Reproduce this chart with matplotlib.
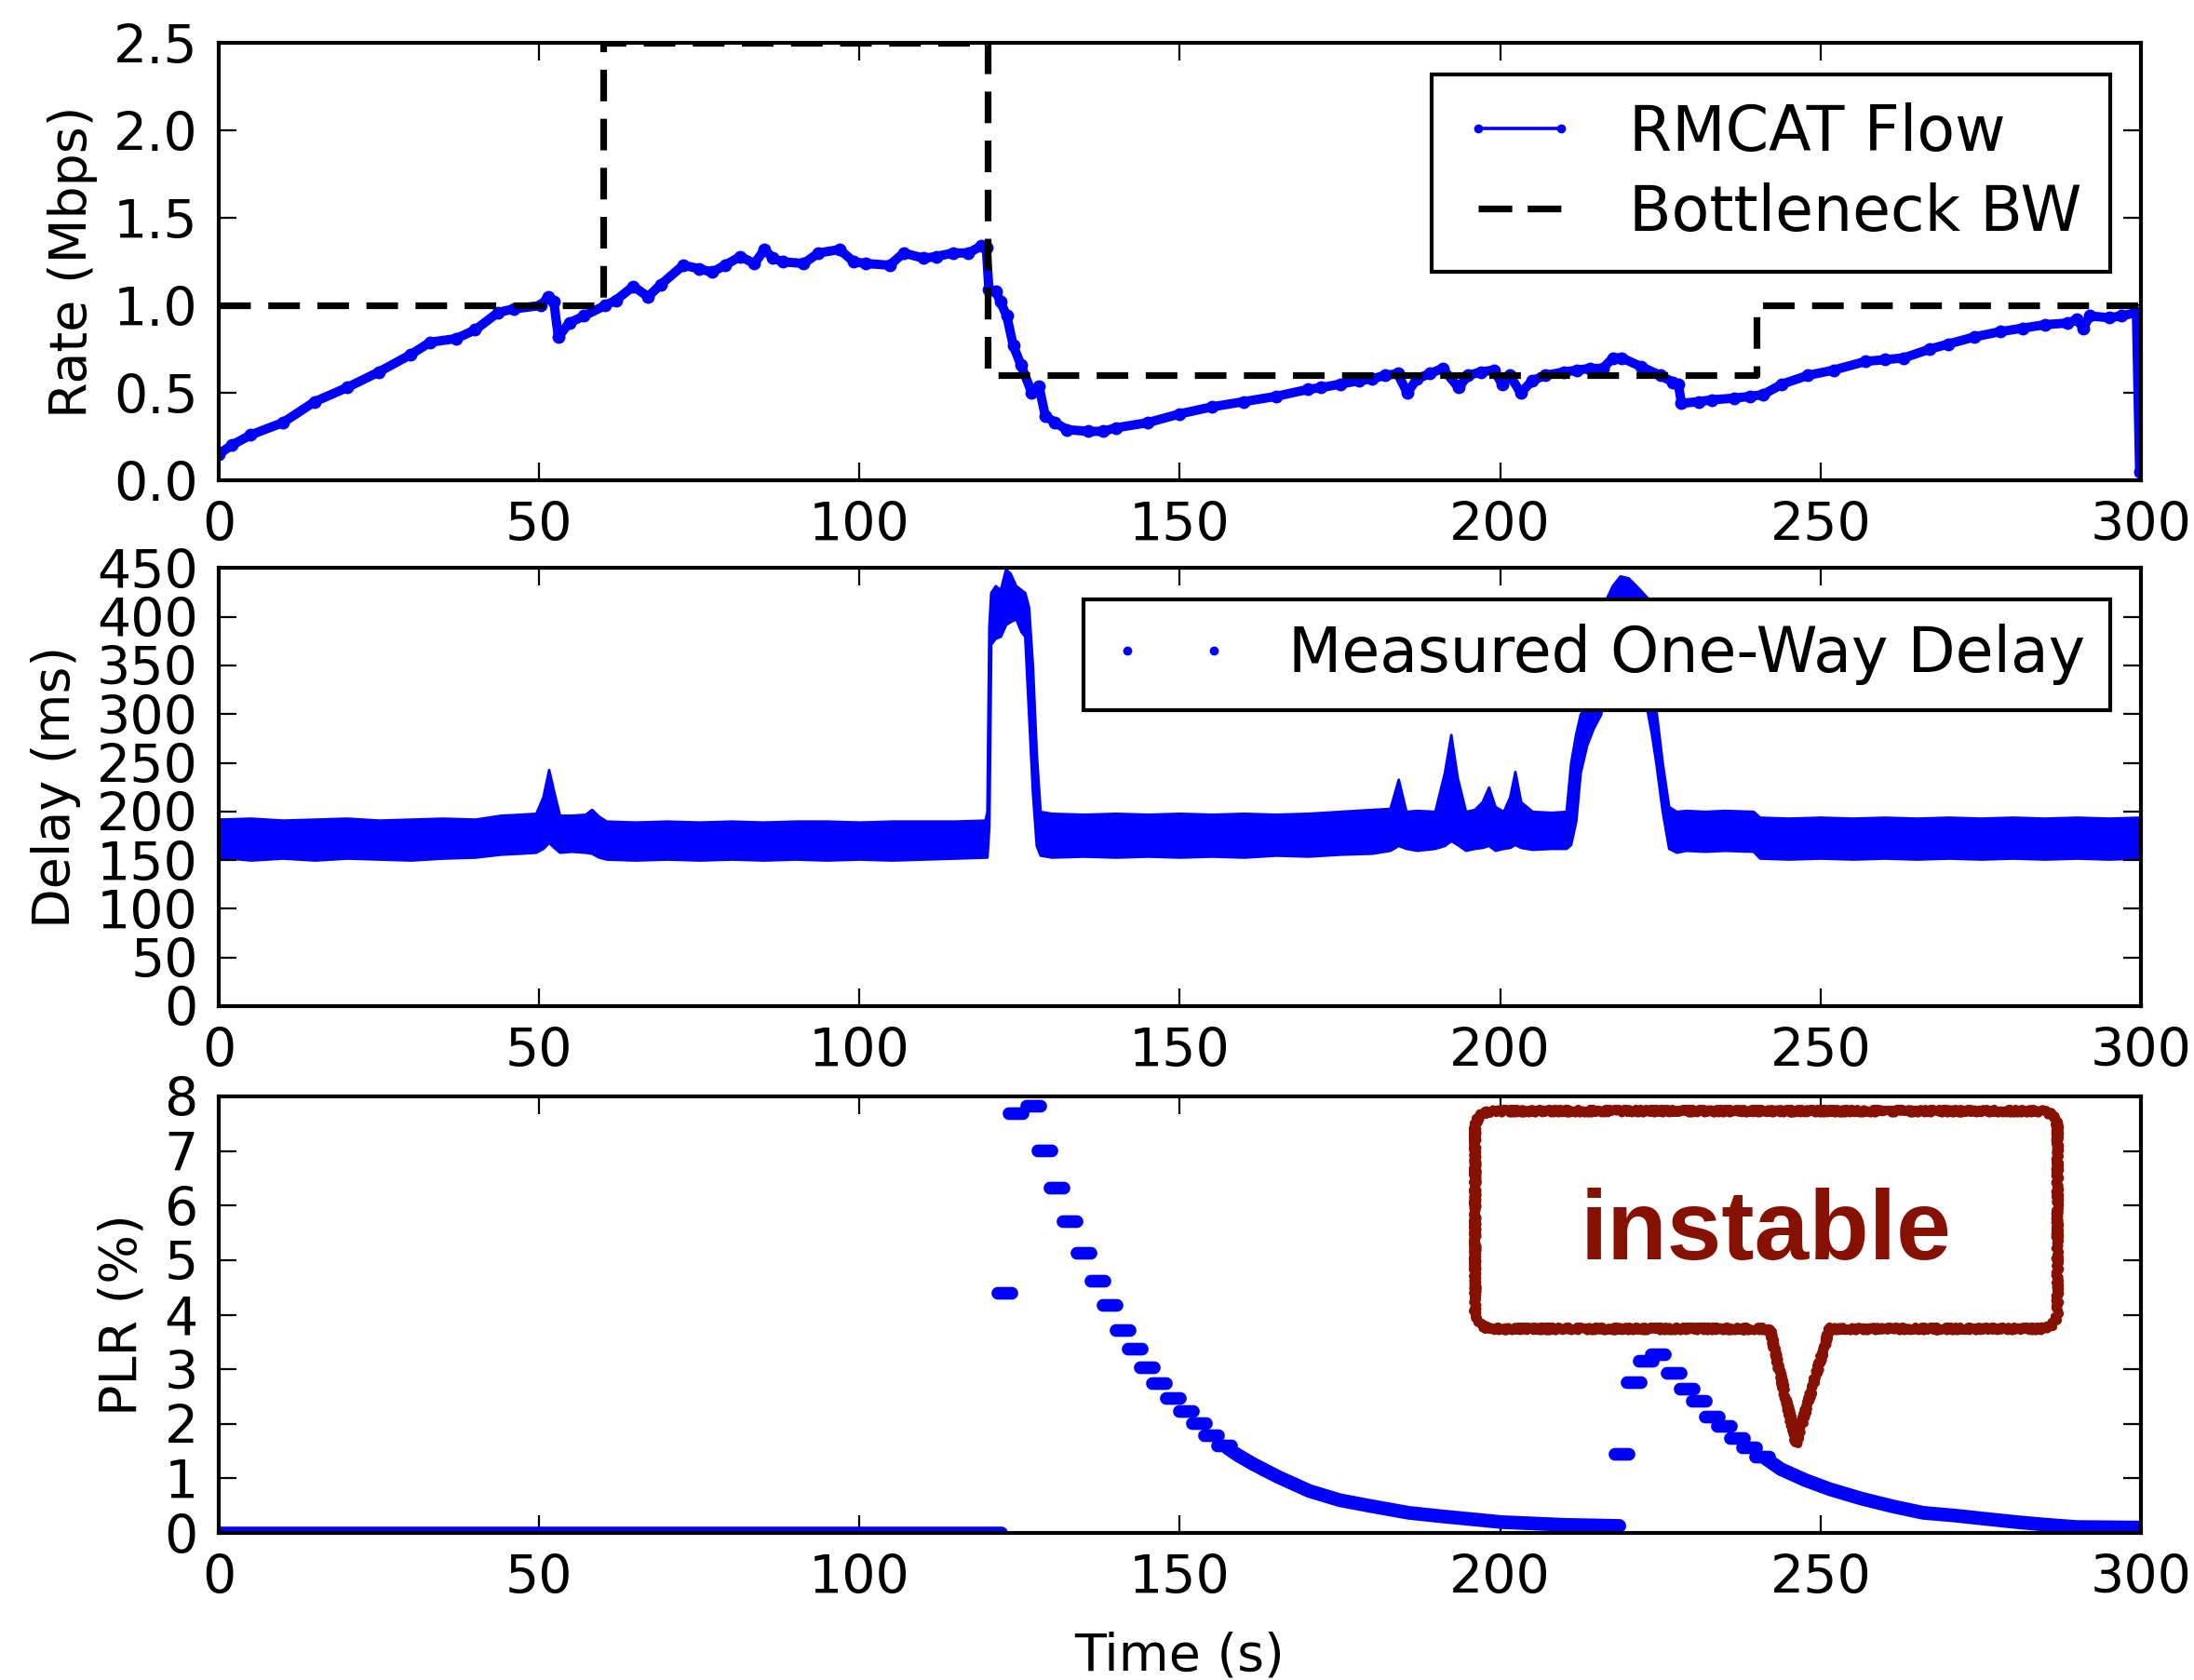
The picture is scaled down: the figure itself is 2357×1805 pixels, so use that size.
#!/usr/bin/env python3
"""RMCAT flow: rate, one-way delay and packet loss ratio over time."""

import numpy as np
import matplotlib
matplotlib.use("Agg")
import matplotlib.pyplot as plt
from matplotlib.lines import Line2D
from matplotlib.path import Path
from matplotlib.patches import PathPatch

# ---- rate panel -------------------------------------------------------
rate_t = [0, 2, 5, 10, 15, 20, 25, 30, 33, 37, 40, 43.6, 46, 50.3, 51.4, 52.3, 53, 54.7,
          57, 60.3, 62, 64.7, 67, 69, 72.5, 75, 77, 79, 81.4, 83.6, 85.2, 86.5, 88, 91.3,
          93.6, 96.9, 99.1, 101, 104.7, 106.9, 110, 112, 114.6, 117, 119, 119.8, 120.2,
          121.3, 122, 123, 124, 125.2, 126.9, 128, 129, 130.5, 132.4, 135.7, 138, 140, 145,
          150, 155, 160, 165, 170, 172, 175, 178, 180, 182, 184, 185.5, 187, 189, 191,
          193.5, 195, 197, 199, 200.3, 201.5, 203.2, 205, 207, 210, 212, 214, 216, 217.6,
          219, 222, 225, 227, 227.8, 228.3, 231, 233, 236.5, 239, 241, 244, 248, 252, 257,
          260, 263, 267, 270, 274, 278, 281.5, 285, 288.6, 290, 291, 292, 295, 297, 299.3,
          299.8]
rate_mbps = [0.15, 0.20, 0.26, 0.33, 0.45, 0.53, 0.62, 0.72, 0.79, 0.81, 0.86, 0.96, 0.98,
             1.00, 1.05, 1.02, 0.82, 0.90, 0.94, 1.00, 1.03, 1.11, 1.05, 1.12, 1.23, 1.21,
             1.19, 1.23, 1.28, 1.24, 1.32, 1.27, 1.25, 1.24, 1.30, 1.32, 1.25, 1.24, 1.23,
             1.30, 1.27, 1.28, 1.30, 1.30, 1.34, 1.33, 1.09, 1.08, 1.02, 0.94, 0.77, 0.66,
             0.50, 0.54, 0.37, 0.33, 0.29, 0.28, 0.28, 0.30, 0.33, 0.38, 0.42, 0.45, 0.48,
             0.52, 0.53, 0.55, 0.57, 0.58, 0.60, 0.61, 0.50, 0.58, 0.61, 0.64, 0.53, 0.60,
             0.62, 0.63, 0.55, 0.60, 0.50, 0.57, 0.60, 0.62, 0.63, 0.64, 0.64, 0.70, 0.70,
             0.65, 0.60, 0.56, 0.55, 0.44, 0.45, 0.46, 0.47, 0.48, 0.49, 0.55, 0.60, 0.63,
             0.68, 0.69, 0.70, 0.75, 0.78, 0.82, 0.85, 0.87, 0.89, 0.90, 0.92, 0.87, 0.94,
             0.93, 0.94, 0.96, 0.05]

bw_t = [0, 60, 60, 120, 120, 240, 240, 300]
bw_mbps = [1.0, 1.0, 2.5, 2.5, 0.6, 0.6, 1.0, 1.0]

# ---- delay panel (envelope of the measured samples) -------------------
delay_t = [0, 5, 10, 15, 20, 25, 30, 35, 40, 44, 47, 49.5, 50.6, 51.5, 52.3, 53.2, 55,
           57.2, 58.2, 59.3, 60.5, 65, 70, 75, 80, 85, 90, 95, 100, 105, 110, 115, 119.6,
           119.9, 120.2, 120.5, 121.2, 122, 122.8, 123.5, 124.4, 125.2, 125.8, 126.4, 127,
           127.6, 128.2, 130, 135, 140, 145, 150, 155, 160, 165, 170, 175, 180, 182.8,
           184.1, 185.3, 187, 189.8, 191.3, 192.3, 193.3, 194.6, 196, 197.2, 198.2, 199.2,
           200.5, 201.5, 202.3, 203.2, 205, 208, 210.3, 211, 211.8, 212.5, 213.5, 214.5,
           215.7, 216.5, 217.5, 218.7, 220, 221.5, 222.9, 223.6, 224.3, 225.3, 226.3,
           227.5, 229, 232, 235, 239.5, 240.5, 245, 250, 255, 260, 265, 270, 275, 280,
           285, 290, 295, 300]
delay_low = [153, 150, 152, 150, 152, 151, 150, 152, 153, 156, 157, 158, 162, 168, 163,
             158, 159, 158, 157, 153, 151, 150, 151, 150, 151, 150, 151, 150, 151, 150, 151,
             152, 153, 153, 185, 372, 378, 380, 392, 395, 398, 385, 380, 300, 220, 165, 155,
             153, 154, 153, 154, 153, 154, 153, 155, 154, 156, 157, 160, 165, 162, 160, 162,
             165, 170, 166, 160, 162, 163, 165, 160, 162, 163, 166, 163, 161, 162, 162, 166,
             190, 240, 268, 285, 300, 340, 350, 355, 355, 345, 305, 280, 250, 200, 162, 158,
             160, 159, 160, 159, 152, 151, 152, 151, 152, 151, 152, 151, 152, 151, 152, 151,
             152]
delay_high = [192, 193, 191, 192, 193, 191, 192, 193, 192, 196, 197, 198, 215, 243, 220,
              196, 196, 197, 202, 195, 190, 189, 190, 189, 190, 189, 190, 190, 189, 190, 190,
              190, 191, 200, 390, 425, 432, 428, 449, 445, 432, 428, 425, 410, 350, 260, 200,
              198, 197, 198, 197, 198, 197, 198, 197, 198, 200, 202, 203, 233, 200, 201, 200,
              240, 279, 235, 200, 202, 210, 225, 205, 200, 215, 241, 210, 200, 199, 200, 250,
              280, 300, 310, 330, 380, 418, 432, 442, 440, 430, 420, 400, 305, 250, 205, 200,
              201, 200, 201, 200, 194, 193, 194, 193, 194, 193, 194, 193, 194, 193, 194, 193,
              194]

# ---- packet loss panel ----------------------------------------------
plr_zero_t = [0, 122.2]
plr_zero = [0, 0]
# isolated samples (drawn as separate dots)
plr_dots_t = [122.6, 124.4, 127.1, 128.9, 130.8, 132.8, 134.9, 137.1, 139.0, 141.0, 142.9,
              144.9, 146.8, 148.9, 151.0, 153.0, 154.9, 156.9,
              218.9, 220.9, 222.7, 224.6, 227.1, 229.1, 231.0, 233.0, 234.9, 237.0, 238.9,
              240.9]
plr_dots = [4.40, 7.70, 7.82, 7.01, 6.33, 5.71, 5.14, 4.62, 4.18, 3.72, 3.38, 3.04, 2.75,
            2.47, 2.24, 2.01, 1.80, 1.60,
            1.45, 2.76, 3.15, 3.28, 2.93, 2.65, 2.42, 2.14, 1.97, 1.74, 1.57, 1.40]
# dense tails, where the samples merge into a band
plr_tail1_t = [157.5, 159.0, 161.5, 165.3, 170.2, 175.0, 180.0, 185.7, 190.5, 200.2, 209.9,
               218.6]
plr_tail1 = [1.55, 1.43, 1.26, 1.03, 0.77, 0.60, 0.49, 0.37, 0.31, 0.20, 0.15, 0.13]
plr_tail2_t = [241.5, 243.8, 247.6, 251.5, 256.4, 261.2, 266.0, 270.9, 275.7, 280.6,
               285.4, 290.0, 300.0]
plr_tail2 = [1.36, 1.17, 0.97, 0.80, 0.63, 0.49, 0.37, 0.32, 0.26, 0.20, 0.15, 0.11, 0.10]

BLUE = "#0000ff"
RED = "#861102"

plt.rcParams.update({
    "font.family": "DejaVu Sans",
    "font.size": 20.5,
    "axes.linewidth": 1.5,
    "xtick.direction": "in",
    "ytick.direction": "in",
    "xtick.top": True,
    "ytick.right": True,
    "xtick.major.size": 7,
    "ytick.major.size": 7,
    "xtick.major.width": 0.8,
    "ytick.major.width": 0.8,
    "xtick.major.pad": 8,
    "ytick.major.pad": 8,
    "legend.numpoints": 2,
    "legend.fancybox": False,
    "legend.framealpha": 1,
    "legend.edgecolor": "black",
    "figure.facecolor": "white",
})

fig = plt.figure(figsize=(11.785, 9.025), dpi=200)
ax1 = fig.add_axes([0.0997, 0.7141, 0.8761, 0.2602])
ax2 = fig.add_axes([0.0997, 0.4012, 0.8761, 0.2606])
ax3 = fig.add_axes([0.0997, 0.0875, 0.8761, 0.2599])

# rate
ax1.plot(rate_t, rate_mbps, color=BLUE, lw=3.6, marker="o", ms=5, mew=0,
         solid_joinstyle="round")
ax1.plot(bw_t, bw_mbps, color="black", lw=2.6, linestyle=(0, (4.7, 2.6)))
ax1.set_xlim(0, 300)
ax1.set_ylim(0, 2.5)
ax1.set_xticks(range(0, 301, 50))
ax1.set_yticks([0.0, 0.5, 1.0, 1.5, 2.0, 2.5])
ax1.set_yticklabels([f"{v:.1f}" for v in ax1.get_yticks()])
ax1.set_ylabel("Rate (Mbps)", fontsize=20, labelpad=6)
handles = [Line2D([], [], color=BLUE, lw=1.3, marker=".", ms=5),
           Line2D([], [], color="black", lw=2.6, linestyle=(0, (5.0, 2.3)))]
leg = ax1.legend(handles, ["RMCAT Flow", "Bottleneck BW"], loc="upper right",
                 fontsize=24, borderaxespad=0.5, borderpad=0.45, handlelength=1.93,
                 handletextpad=0.8, labelspacing=0.3)
leg.get_frame().set_linewidth(1.5)

# delay
ax2.fill_between(delay_t, delay_low, delay_high, color=BLUE, lw=1.0)
ax2.set_xlim(0, 300)
ax2.set_ylim(0, 450)
ax2.set_xticks(range(0, 301, 50))
ax2.set_yticks(range(0, 451, 50))
ax2.set_ylabel("Delay (ms)", fontsize=20, labelpad=6)
dot = Line2D([], [], color=BLUE, ls="none", marker=".", ms=5)
leg2 = ax2.legend([dot], ["Measured One-Way Delay"], loc="upper right", fontsize=24,
                  borderaxespad=0.5, borderpad=0.4, handlelength=2.0, handletextpad=0.9)
leg2.get_frame().set_linewidth(1.5)

# packet loss ratio; samples that repeat a value show up as short pills
ang = np.linspace(-np.pi / 2, np.pi / 2, 16)
right_cap = np.column_stack([0.55 + 0.5 * np.cos(ang), 0.5 * np.sin(ang)])
left_cap = np.column_stack([-0.55 - 0.5 * np.cos(ang), -0.5 * np.sin(ang)])
pill = Path(np.vstack([right_cap, left_cap, right_cap[:1]]), closed=True)

ax3.plot(plr_zero_t, plr_zero, color=BLUE, lw=4.9, solid_capstyle="round")
ax3.plot(plr_tail1_t, plr_tail1, color=BLUE, lw=5.3, solid_capstyle="round",
         solid_joinstyle="round")
ax3.plot(plr_tail2_t, plr_tail2, color=BLUE, lw=5.3, solid_capstyle="round",
         solid_joinstyle="round")
ax3.plot(plr_dots_t, plr_dots, ls="none", marker=pill, ms=10.3, color=BLUE, mew=0)
ax3.set_xlim(0, 300)
ax3.set_ylim(0, 8)
ax3.set_xticks(range(0, 301, 50))
ax3.set_yticks(range(0, 9))
ax3.set_ylabel("PLR (%)", fontsize=20, labelpad=6.5)
ax3.set_xlabel("Time (s)", fontsize=20, labelpad=10)

# hand-drawn speech bubble
x0, x1, y0, y1 = 196.1, 287.0, 3.74, 7.73
rx, ry = 3.0, 0.35
xa, xb, tip = 242.1, 251.4, (246.2, 1.64)
verts = [(x0 + rx, y1), (x1 - rx, y1), (x1, y1), (x1, y1 - ry), (x1, y0 + ry),
         (x1, y0), (x1 - rx, y0), (xb, y0), tip, (xa, y0), (x0 + rx, y0), (x0, y0),
         (x0, y0 + ry), (x0, y1 - ry), (x0, y1), (x0 + rx, y1), (x0 + rx, y1)]
codes = [Path.MOVETO, Path.LINETO, Path.CURVE3, Path.CURVE3, Path.LINETO, Path.CURVE3,
         Path.CURVE3, Path.LINETO, Path.LINETO, Path.LINETO, Path.LINETO, Path.CURVE3,
         Path.CURVE3, Path.LINETO, Path.CURVE3, Path.CURVE3, Path.CLOSEPOLY]
bubble = PathPatch(Path(verts, codes), facecolor="white", edgecolor=RED, lw=3.2,
                   joinstyle="round", zorder=5)
bubble.set_sketch_params(scale=2.5, length=5, randomness=3)
ax3.add_patch(bubble)
ax3.text(241.5, 5.02, "instable", color=RED, fontsize=38, fontweight="bold",
         family="Liberation Sans", ha="center", va="baseline", zorder=6)

fig.savefig("out.png", dpi=200)
